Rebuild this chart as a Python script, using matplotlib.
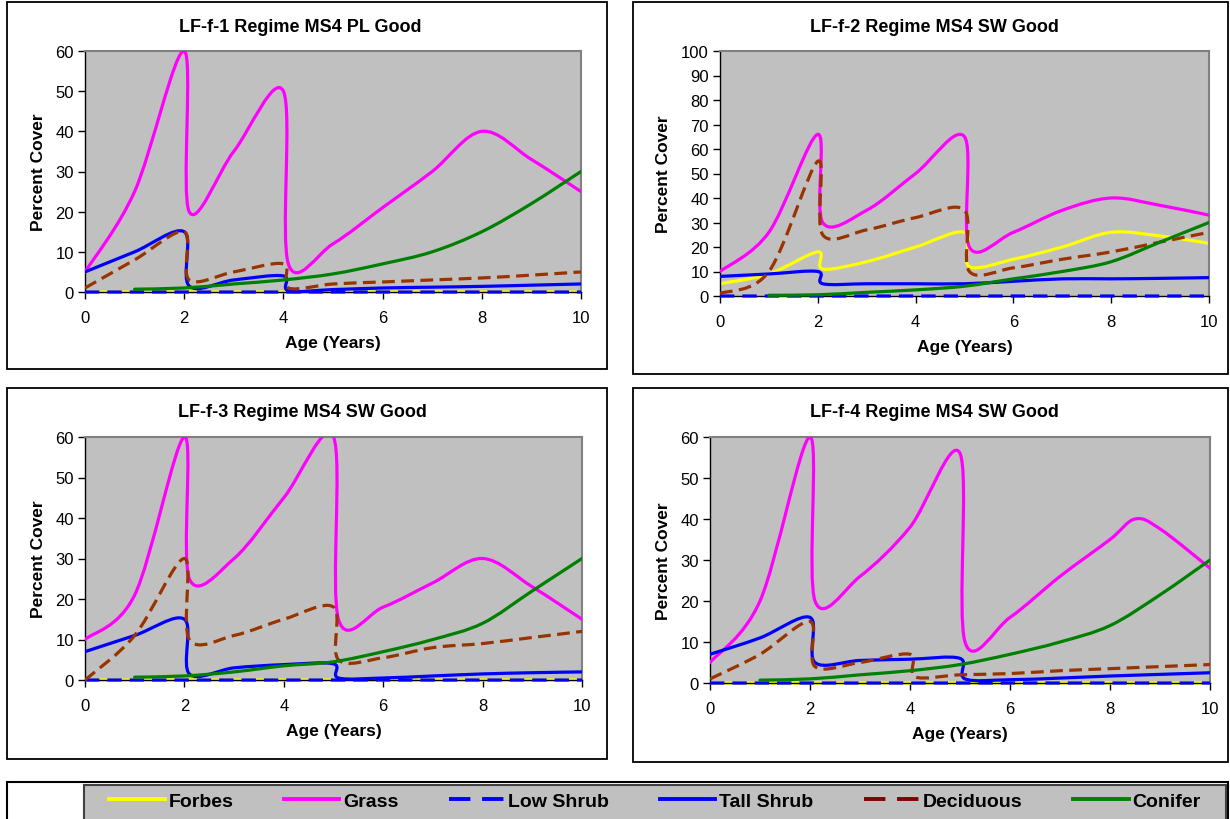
import numpy as np
import matplotlib
matplotlib.use("Agg")
import matplotlib.pyplot as plt
from matplotlib.path import Path
from matplotlib.patches import PathPatch, Rectangle
from matplotlib.lines import Line2D
from matplotlib.transforms import Bbox, TransformedBbox

plt.rcParams['font.family'] = ['Liberation Sans', 'DejaVu Sans']

SERIES = ["Forbes", "Grass", "Low Shrub", "Tall Shrub", "Deciduous", "Conifer"]

# flat series (forbes / low shrub at zero)
FLAT_AGE = [0, 2, 4, 6, 8, 10]
FLAT_ZERO = [0, 0, 0, 0, 0, 0]
CONIFER_AGE = [1, 2, 3, 4, 5, 6, 7, 8, 9, 10]

# LF-f-1
LF1_AGE = [0, 1, 2, 2.1, 3, 4, 4.1, 5, 6, 7, 8, 9, 10]
LF1_GRASS = [5, 25, 60, 20, 35, 50, 7, 12, 21, 30, 40, 33, 25]
LF1_TALL = [5, 10, 15, 1.5, 3, 4, 0.3, 0.6, 1, 1.2, 1.4, 1.7, 2]
LF1_DECID = [1, 8, 15, 3, 5, 7, 1, 2, 2.5, 3, 3.5, 4.2, 5]
LF1_CONIFER = [0.7, 1, 2, 3, 4.5, 7, 10, 15, 22, 30]

# LF-f-2
LF2_AGE = [0, 1, 2, 2.1, 3, 4, 5, 5.1, 6, 7, 8, 9, 10]
LF2_GRASS = [10, 26, 66, 30, 35, 50, 65, 20, 26, 35, 40, 37, 33]
LF2_FORBES = [5, 9, 18, 11, 14, 20, 26, 12, 15, 20, 26, 24.5, 21.5]
LF2_DECID = [1, 10, 55, 25, 27, 32, 35, 10, 11.5, 15, 18, 22, 26]
LF2_TALL_AGE = [0, 1, 2, 2.1, 3, 4, 5, 6, 7, 8, 9, 10]
LF2_TALL = [8, 9, 10, 5, 5, 5, 5, 6, 7, 7, 7.2, 7.5]
LF2_CONIFER = [0.3, 0.5, 1.5, 2.5, 4, 7, 10, 14, 22, 30]

# LF-f-3
LF3_AGE = [0, 1, 2, 2.1, 3, 4, 5, 5.1, 6, 7, 8, 9, 10]
LF3_GRASS = [10, 21, 60, 25, 30, 45, 60, 15, 18, 24, 30, 23, 15]
LF3_TALL = [7, 11, 15, 1.5, 3, 3.8, 4, 0.5, 0.5, 1, 1.5, 1.8, 2]
LF3_DECID = [0, 11, 30, 10, 11, 15, 18, 5, 5.5, 8, 9, 10.5, 12]
LF3_CONIFER = [0.7, 1, 2, 3.5, 4.5, 7, 10, 14, 22, 30]

# LF-f-4
LF4_GRASS_AGE = [0, 1, 2, 2.1, 3, 4, 5, 5.1, 6, 7, 8, 8.5, 9, 10]
LF4_GRASS = [5, 20, 60, 20, 26, 38, 56, 10, 16, 26, 35, 40, 37.6, 28]
LF4_TALL_AGE = [0, 1, 2, 2.1, 3, 4, 5, 5.1, 6, 7, 8, 9, 10]
LF4_TALL = [7, 11, 16, 5, 5.5, 5.8, 6, 1, 0.8, 1.2, 1.7, 2.1, 2.5]
LF4_DECID_AGE = [0, 1, 2, 2.1, 3, 4, 4.1, 5, 6, 7, 8, 9, 10]
LF4_DECID = [1, 7, 15, 4, 5, 7, 1.5, 2, 2.3, 3, 3.5, 4, 4.5]
LF4_CONIFER = [0.7, 1, 2, 3, 4.5, 7, 10, 14, 21.5, 30]

TITLES = ["LF-f-1 Regime MS4 PL Good", "LF-f-2 Regime MS4 SW Good",
          "LF-f-3 Regime MS4 SW Good", "LF-f-4 Regime MS4 SW Good"]

COLORS = {"Forbes": "#FFFF00", "Grass": "#FF00FF", "Low Shrub": "#0000FF",
          "Tall Shrub": "#0000FF", "Deciduous": "#993300", "Conifer": "#008000"}
DASHED = {"Low Shrub": (0, (4.5, 2.5)), "Deciduous": (0, (4, 2))}


def smooth_path(x, y):
    # Excel-like smoothed line: Catmull-Rom converted to cubic beziers
    p = np.column_stack([x, y]).astype(float)
    ext = np.vstack([p[0], p, p[-1]])
    verts = [p[0]]
    for i in range(len(p) - 1):
        p0, p1, p2, p3 = ext[i], ext[i + 1], ext[i + 2], ext[i + 3]
        verts += [p1 + (p2 - p0) / 6, p2 - (p3 - p1) / 6, p2]
    codes = [Path.MOVETO] + [Path.CURVE4] * (3 * (len(p) - 1))
    return Path(verts, codes)


panels = [
    dict(box=(7, 3, 607, 370), ax=(85, 52, 581, 293), ymax=60, title_xy=(300, 27),
         data={"Forbes": (FLAT_AGE, FLAT_ZERO), "Grass": (LF1_AGE, LF1_GRASS),
               "Low Shrub": (FLAT_AGE, FLAT_ZERO), "Tall Shrub": (LF1_AGE, LF1_TALL),
               "Deciduous": (LF1_AGE, LF1_DECID), "Conifer": (CONIFER_AGE, LF1_CONIFER)}),
    dict(box=(633, 3, 1228, 375), ax=(720, 52, 1209, 297), ymax=100, title_xy=(934, 27),
         data={"Forbes": (LF2_AGE, LF2_FORBES), "Grass": (LF2_AGE, LF2_GRASS),
               "Low Shrub": (FLAT_AGE, FLAT_ZERO), "Tall Shrub": (LF2_TALL_AGE, LF2_TALL),
               "Deciduous": (LF2_AGE, LF2_DECID), "Conifer": (CONIFER_AGE, LF2_CONIFER)}),
    dict(box=(7, 389, 607, 760), ax=(85, 438, 582, 681), ymax=60, title_xy=(302, 413),
         data={"Forbes": (FLAT_AGE, FLAT_ZERO), "Grass": (LF3_AGE, LF3_GRASS),
               "Low Shrub": (FLAT_AGE, FLAT_ZERO), "Tall Shrub": (LF3_AGE, LF3_TALL),
               "Deciduous": (LF3_AGE, LF3_DECID), "Conifer": (CONIFER_AGE, LF3_CONIFER)}),
    dict(box=(633, 389, 1228, 763), ax=(710, 438, 1210, 684), ymax=60, title_xy=(934, 413),
         data={"Forbes": (FLAT_AGE, FLAT_ZERO), "Grass": (LF4_GRASS_AGE, LF4_GRASS),
               "Low Shrub": (FLAT_AGE, FLAT_ZERO), "Tall Shrub": (LF4_TALL_AGE, LF4_TALL),
               "Deciduous": (LF4_DECID_AGE, LF4_DECID), "Conifer": (CONIFER_AGE, LF4_CONIFER)}),
]

W, H = 1230, 820
fig = plt.figure(figsize=(W / 100, H / 100), dpi=100)


def px_rect(l, t, r, b):
    return [l / W, 1 - b / H, (r - l) / W, (b - t) / H]


for i, pn in enumerate(panels):
    l, t, r, b = pn["box"]
    fig.add_artist(Rectangle((l / W, 1 - b / H), (r - l) / W, (b - t) / H,
                             transform=fig.transFigure, facecolor="white",
                             edgecolor="black", lw=1.3, zorder=0))
    ax = fig.add_axes(px_rect(*pn["ax"]))
    ax.set_facecolor("#C0C0C0")
    ax.set_xlim(0, 10)
    ax.set_ylim(0, pn["ymax"])
    ax.set_xticks(range(0, 11, 2))
    ax.set_yticks(range(0, pn["ymax"] + 1, 10))
    ax.tick_params(direction="out", length=5, width=1, labelsize=12, pad=3)
    ax.tick_params(axis="x", pad=8)
    for s in ["top", "right"]:
        ax.spines[s].set_color("#808080")
        ax.spines[s].set_linewidth(1.5)
    for s in ["left", "bottom"]:
        ax.spines[s].set_color("black")
        ax.spines[s].set_linewidth(1)
    clip = TransformedBbox(Bbox([[0, -0.03], [1, 1]]), ax.transAxes)
    for z, name in enumerate(SERIES):
        x, y = pn["data"][name]
        patch = PathPatch(smooth_path(x, y), fill=False, edgecolor=COLORS[name],
                          lw=2.3, linestyle=DASHED.get(name, "-"),
                          capstyle="butt" if name in DASHED else "round",
                          joinstyle="round", zorder=2 + z)
        ax.add_patch(patch)
        patch.set_clip_box(clip)
    ax.set_ylabel("Percent Cover", fontsize=12.5, fontweight="bold", labelpad=7)
    ax.set_xlabel("Age (Years)", fontsize=12.5, fontweight="bold", labelpad=7)
    tx, ty = pn["title_xy"]
    fig.text(tx / W, 1 - ty / H, TITLES[i], ha="center", va="center",
             fontsize=13, fontweight="bold")

# legend strip at the bottom
fig.add_artist(Rectangle((7 / W, 1 - 826 / H), 1221 / W, 43 / H,
                         transform=fig.transFigure, facecolor="white",
                         edgecolor="black", lw=1.5, zorder=0))
ax_leg = fig.add_axes(px_rect(84, 786, 1226, 822))
ax_leg.set_facecolor("#C0C0C0")
ax_leg.set_xticks([])
ax_leg.set_yticks([])
for s in ax_leg.spines.values():
    s.set_color("#404040")
    s.set_linewidth(1.5)
handles = []
for name in SERIES:
    c = "#800000" if name == "Deciduous" else COLORS[name]
    ls = (0, (5.5, 3)) if name in DASHED else "-"
    handles.append(Line2D([], [], color=c, lw=2.8, linestyle=ls))
ax_leg.legend(handles, SERIES, loc="center", bbox_to_anchor=(0.5, 0.55), ncol=6,
              frameon=False, prop=dict(weight="bold", size=14),
              handlelength=2.85, columnspacing=2.6, handletextpad=0.2)

fig.savefig("out.png", dpi=100)
